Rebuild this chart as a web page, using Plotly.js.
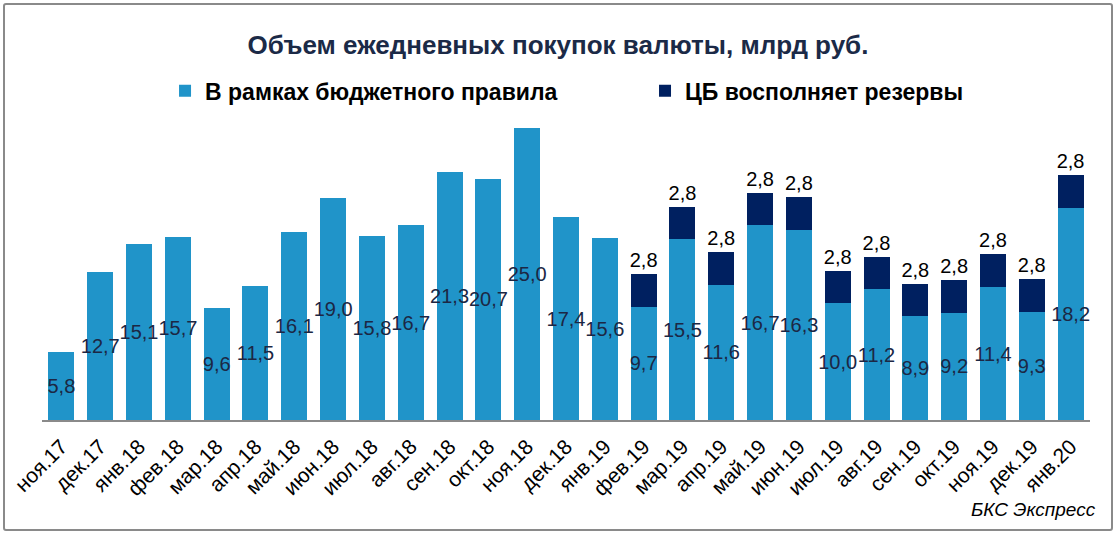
<!DOCTYPE html>
<html>
<head>
<meta charset="utf-8">
<script src="https://cdn.plot.ly/plotly-3.0.1.min.js"></script>
<style>
html,body{margin:0;padding:0;background:#fff;}
#wrap{position:relative;width:1116px;height:534px;}
#chart{width:1116px;height:534px;}
#frame{position:absolute;left:3px;top:3px;width:1106px;height:524px;border:2px solid #8a8a8a;border-radius:3px;pointer-events:none;}
</style>
</head>
<body>
<div id="wrap"><div id="chart"></div><div id="frame"></div></div>
<script>
const categories = ["ноя.17","дек.17","янв.18","фев.18","мар.18","апр.18","май.18","июн.18","июл.18","авг.18","сен.18","окт.18","ноя.18","дек.18","янв.19","фев.19","мар.19","апр.19","май.19","июн.19","июл.19","авг.19","сен.19","окт.19","ноя.19","дек.19","янв.20"];
const budgetRule = [5.8,12.7,15.1,15.7,9.6,11.5,16.1,19.0,15.8,16.7,21.3,20.7,25.0,17.4,15.6,9.7,15.5,11.6,16.7,16.3,10.0,11.2,8.9,9.2,11.4,9.3,18.2];
const cbReserves = [null,null,null,null,null,null,null,null,null,null,null,null,null,null,null,2.8,2.8,2.8,2.8,2.8,2.8,2.8,2.8,2.8,2.8,2.8,2.8];
const seriesNames = ["В рамках бюджетного правила","ЦБ восполняет резервы"];

const fmt = v => (v === null ? "" : v.toFixed(1).replace(".", ","));

const traces = [
  {
    type: "bar", name: seriesNames[0], x: categories, y: budgetRule, legend: "legend",
    marker: {color: "#2094c9"},
    text: budgetRule.map(fmt), textposition: "inside", insidetextanchor: "middle",
    textangle: 0, constraintext: "none", cliponaxis: false,
    textfont: {family: "Liberation Sans, Arial, sans-serif", size: 20, color: "#1c2744"},
    hoverinfo: "skip"
  },
  {
    type: "bar", name: seriesNames[1], x: categories, y: cbReserves, legend: "legend2",
    marker: {color: "#002060"},
    text: cbReserves.map(fmt), textposition: "outside",
    textangle: 0, constraintext: "none", cliponaxis: false,
    textfont: {family: "Liberation Sans, Arial, sans-serif", size: 20, color: "#000000"},
    hoverinfo: "skip"
  }
];

const legendFont = {family: "Liberation Sans, Arial, sans-serif", size: 23, color: "#000000", weight: "bold"};

const layout = {
  width: 1116, height: 534,
  margin: {l: 42, r: 26, t: 105, b: 114},
  paper_bgcolor: "#ffffff", plot_bgcolor: "#ffffff",
  barmode: "stack", bargap: 0.33,
  showlegend: true,
  title: {
    text: "Объем ежедневных покупок валюты, млрд руб.",
    x: 0.5, xanchor: "center", xref: "container", y: 0.916, yanchor: "middle", yref: "container",
    font: {family: "Liberation Sans, Arial, sans-serif", size: 26, color: "#1b2a47", weight: "bold"}
  },
  legend: {
    orientation: "h", x: 0.1174, xanchor: "left", y: 1.045, yanchor: "middle",
    font: legendFont, itemwidth: 30, itemclick: false
  },
  legend2: {
    orientation: "h", x: 0.5754, xanchor: "left", y: 1.045, yanchor: "middle",
    font: legendFont, itemwidth: 30, itemclick: false
  },
  xaxis: {
    type: "category", tickangle: -45, showgrid: false, zeroline: false,
    showline: true, linecolor: "#8a8a8a", linewidth: 2, ticks: "",
    ticklabelstandoff: 4,
    tickfont: {family: "Liberation Sans, Arial, sans-serif", size: 21, color: "#000000"}
  },
  yaxis: {
    range: [0, 27], visible: false, showgrid: false, zeroline: false, fixedrange: true
  },
  annotations: [{
    text: "БКС Экспресс", xref: "paper", yref: "paper", x: 1.0076, y: -0.285,
    xanchor: "right", yanchor: "middle", showarrow: false,
    font: {family: "Liberation Sans, Arial, sans-serif", size: 19, color: "#000000", style: "italic"}
  }]
};

Plotly.newPlot("chart", traces, layout, {displayModeBar: false, staticPlot: true});
</script>
</body>
</html>
